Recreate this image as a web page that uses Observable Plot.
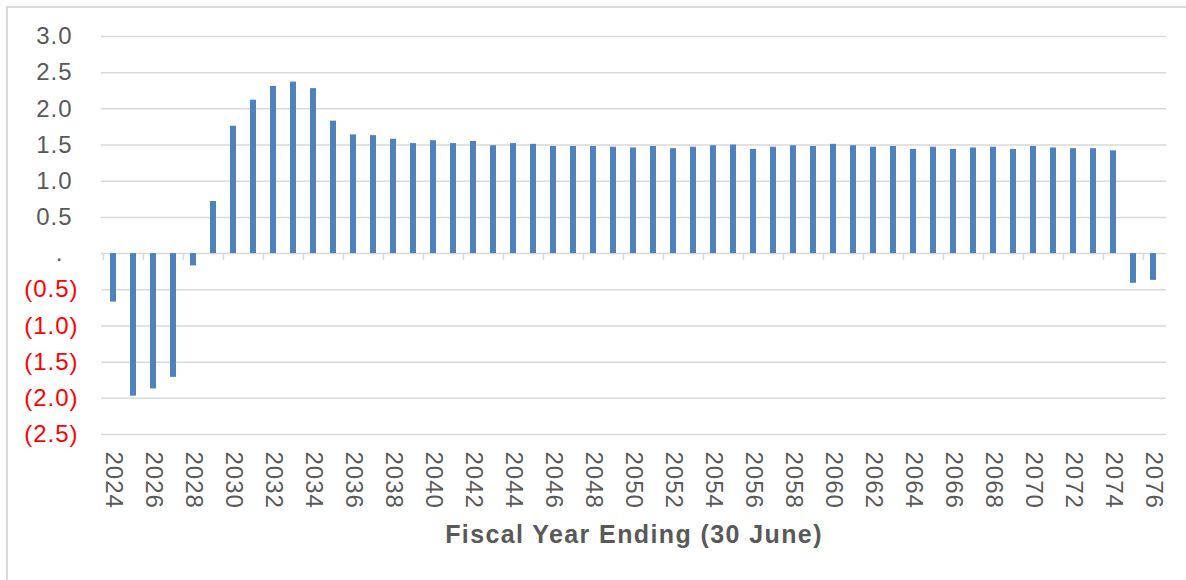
<!DOCTYPE html>
<html>
<head>
<meta charset="utf-8">
<script src="https://cdn.jsdelivr.net/npm/d3@7"></script>
<script src="https://cdn.jsdelivr.net/npm/@observablehq/plot@0.6"></script>
<style>
  html, body { margin: 0; padding: 0; background: #fff; }
  #wrap { position: relative; width: 1186px; height: 580px; overflow: hidden; }
  #border { position: absolute; left: 6px; top: 6px; width: 1200px; height: 600px;
            border-left: 2px solid #d9d9d9; border-top: 2px solid #d9d9d9; }
  #chart { position: absolute; left: 0; top: 0; }
  #chart svg text { letter-spacing: 1px; }
  #chart svg text.title { letter-spacing: 1.4px; }
</style>
</head>
<body>
<div id="wrap"><div id="border"></div><div id="chart"></div></div>
<script>
const years = [2024,2025,2026,2027,2028,2029,2030,2031,2032,2033,2034,2035,2036,2037,2038,2039,2040,
  2041,2042,2043,2044,2045,2046,2047,2048,2049,2050,2051,2052,2053,2054,2055,2056,2057,2058,2059,2060,
  2061,2062,2063,2064,2065,2066,2067,2068,2069,2070,2071,2072,2073,2074,2075,2076];
const values = [-0.67,-1.97,-1.87,-1.71,-0.17,0.72,1.76,2.12,2.31,2.37,2.28,1.83,1.64,1.63,1.58,1.52,1.56,
  1.52,1.55,1.49,1.52,1.51,1.48,1.48,1.48,1.47,1.46,1.48,1.45,1.47,1.49,1.50,1.44,1.47,1.49,1.48,1.51,
  1.49,1.47,1.48,1.44,1.47,1.44,1.46,1.47,1.44,1.48,1.46,1.45,1.45,1.42,-0.41,-0.37];
const yTicks = [3.0,2.5,2.0,1.5,1.0,0.5,0,-0.5,-1.0,-1.5,-2.0,-2.5];
const xTickYears = [2024,2026,2028,2030,2032,2034,2036,2038,2040,2042,2044,2046,2048,2050,2052,2054,
  2056,2058,2060,2062,2064,2066,2068,2070,2072,2074,2076];
const xTitle = "Fiscal Year Ending (30 June)";

const data = years.map((y, i) => ({year: y, value: values[i]}));

const W = 1186, H = 580, ML = 101, MR = 20, MT = 36, MB = 146;
const step = (W - ML - MR) / years.length;
const fmt = d => d.toFixed(1);

const chart = Plot.plot({
  width: W, height: H,
  marginLeft: ML, marginRight: MR, marginTop: MT, marginBottom: MB,
  style: {fontFamily: "'Liberation Sans', Arial, sans-serif", fontSize: "24px", background: "transparent"},
  x: {type: "band", domain: years, paddingInner: 0.68, paddingOuter: 0.34, axis: null},
  y: {domain: [-2.5, 3.0], axis: null},
  marks: [
    Plot.ruleY(yTicks, {y: d => d, stroke: "#d9d9d9", strokeWidth: 1.5}),
    Plot.ruleX(xTickYears, {x: d => d, y1: 0, y2: 0, insetBottom: -7, dx: -step / 2, stroke: "#d9d9d9", strokeWidth: 1.5}),
    Plot.barY(data, {x: "year", y: "value", fill: "#4f81bd"}),
    Plot.text(yTicks.filter(d => d > 0), {y: d => d, text: fmt, frameAnchor: "left", textAnchor: "end", dx: -29, fill: "#595959", fontSize: 24}),
    Plot.text(yTicks.filter(d => d < 0), {y: d => d, text: d => "(" + fmt(-d) + ")", frameAnchor: "left", textAnchor: "end", dx: -23, fill: "#ff0000", fontSize: 24}),
    Plot.text([0], {y: d => d, text: d => ".", frameAnchor: "left", textAnchor: "end", dx: -38, fill: "#595959", fontSize: 24}),
    Plot.axisX({ticks: xTickYears, tickFormat: d => String(d), tickRotate: 90, tickSize: 0, tickPadding: 17,
      label: null, fill: "#595959", fontSize: 24}),
    Plot.text([xTitle], {frameAnchor: "bottom", dx: 0, dy: 108, text: d => d, fontWeight: "bold", fontSize: 25, fill: "#595959"})
  ]
});
chart.querySelectorAll("g").forEach(g => {
  if (g.getAttribute("font-weight") === "bold") g.querySelectorAll("text").forEach(t => t.classList.add("title"));
});
document.getElementById("chart").appendChild(chart);
</script>
</body>
</html>
